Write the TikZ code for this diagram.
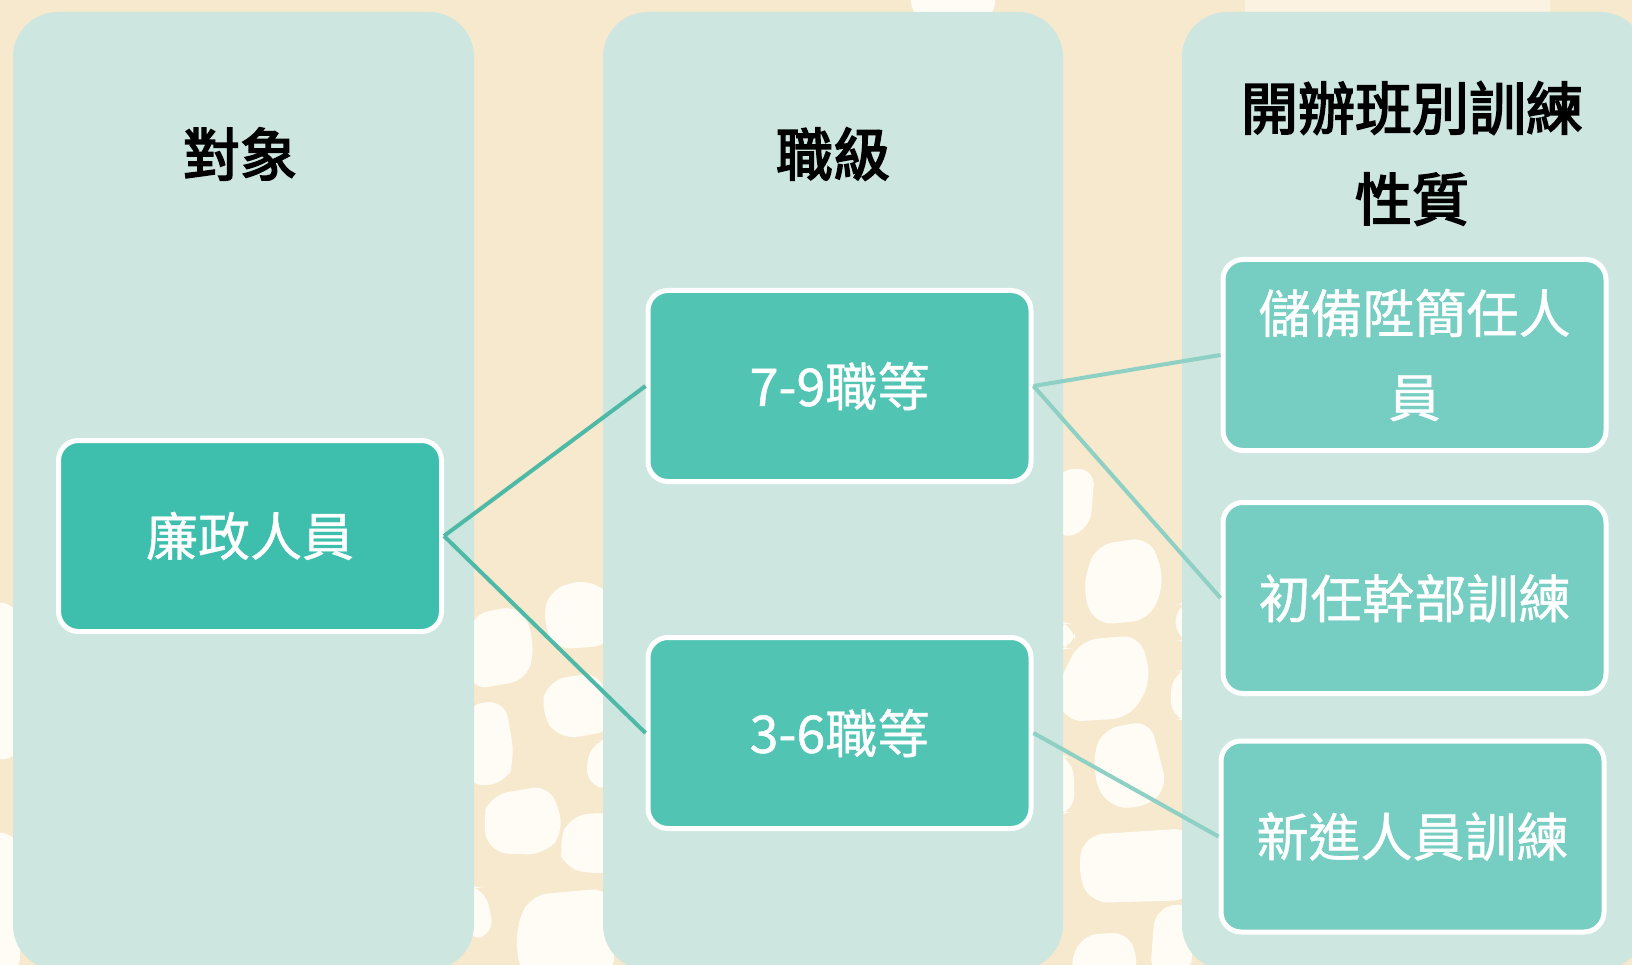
\documentclass[tikz,border=0pt]{standalone}
\usepackage{fontspec}
\newfontfamily\cjk[FakeBold=0.8]{Noto Sans CJK TC}
\newfontfamily\cjktitle[FakeBold=3]{Noto Sans CJK TC}
\definecolor{bgc}{HTML}{F7E9CE}
\definecolor{blobc}{HTML}{FFFCF6}
\definecolor{blobfaint}{HTML}{FBF2E2}
\definecolor{colc}{HTML}{CDE6DF}
\definecolor{boxa}{HTML}{3EBEAD}
\definecolor{boxb}{HTML}{52C4B4}
\definecolor{boxc}{HTML}{76CDC1}
\definecolor{linea}{HTML}{4DB9A6}
\definecolor{lineb}{HTML}{8ED0C3}
\tikzset{
  colbg/.style={fill=colc, rounded corners=45pt},
  blob/.style={fill=blobc, rounded corners=18pt},
  box/.style={draw=white, line width=5pt, rounded corners=20pt,
    minimum width=383pt, minimum height=191pt, inner sep=0pt,
    text=white, font=\cjk\fontsize{52}{84}\selectfont, align=center},
  coltitle/.style={font=\cjktitle\fontsize{57}{91}\selectfont,
    align=center, text=black, inner sep=0pt},
  linka/.style={draw=linea, line width=4pt},
  linkb/.style={draw=lineb, line width=4pt},
}
\begin{document}
\begin{tikzpicture}[x=1pt,y=-1pt]
\useasboundingbox (0,0) rectangle (1632,965);
\clip (0,0) rectangle (1632,965);
% background
\fill[bgc] (0,0) rectangle (1632,965);
% terrazzo blobs (gap 1)
\fill[blob] (470,615) -- (520,605) -- (535,640) -- (528,680) -- (470,690) -- cycle;
\fill[blob] (548,590) -- (590,578) -- (615,600) -- (612,645) -- (555,650) -- (543,625) -- cycle;
\fill[blob] (548,680) -- (600,672) -- (615,730) -- (560,740) -- (540,712) -- cycle;
\fill[blob] (465,705) -- (505,700) -- (515,760) -- (505,785) -- (465,785) -- cycle;
\fill[blob] (590,742) -- (615,738) -- (615,790) -- (585,785) -- cycle;
\fill[blob] (490,795) -- (550,785) -- (565,830) -- (545,855) -- (490,853) -- (482,820) -- cycle;
\fill[blob] (570,815) -- (615,812) -- (615,875) -- (565,870) -- (558,845) -- cycle;
\fill[blob] (465,885) -- (485,888) -- (495,935) -- (465,940) -- cycle;
\fill[blob] (530,895) -- (610,888) -- (615,975) -- (520,975) -- (515,930) -- cycle;
% terrazzo blobs (gap 2)
\fill[blob] (1055,470) -- (1095,468) -- (1090,530) -- (1055,540) -- cycle;
\fill[blob] (1095,545) -- (1150,537) -- (1165,580) -- (1150,620) -- (1095,625) -- (1082,590) -- cycle;
\fill[blob] (1055,620) -- (1075,625) -- (1075,648) -- (1055,650) -- cycle;
\fill[blob] (1080,640) -- (1140,635) -- (1152,680) -- (1130,718) -- (1065,722) -- (1055,690) -- cycle;
\fill[blob] (1175,605) -- (1192,600) -- (1192,645) -- (1176,640) -- cycle;
\fill[blob] (1172,672) -- (1192,668) -- (1192,722) -- (1170,718) -- cycle;
\fill[blob] (1100,730) -- (1150,720) -- (1168,790) -- (1140,810) -- (1105,805) -- (1092,770) -- cycle;
\fill[blob] (1055,753) -- (1073,758) -- (1075,812) -- (1055,815) -- cycle;
\fill[blob] (1085,835) -- (1192,828) -- (1192,900) -- (1090,903) -- (1077,870) -- cycle;
\fill[blob] (1155,908) -- (1192,902) -- (1192,975) -- (1150,975) -- cycle;
\fill[blob] (1080,935) -- (1130,932) -- (1140,975) -- (1068,975) -- cycle;
% left strip and top strip
\fill[blob] (-20,600) -- (20,605) -- (20,760) -- (-20,758) -- cycle;
\fill[blob] (-20,830) -- (20,835) -- (20,975) -- (-20,975) -- cycle;
\fill[blob] (910,-20) -- (995,-20) -- (995,20) -- (912,20) -- cycle;
\fill[blobfaint, rounded corners=10pt] (1245,-20) -- (1550,-20) -- (1550,20) -- (1245,20) -- cycle;
% columns
\fill[colbg] (13,12) rectangle (474,970);
\fill[colbg] (603,12) rectangle (1063,970);
\fill[colbg] (1182,12) rectangle (1645,970);
% column titles
\node[coltitle] (t1) at (240,154) {對象};
\node[coltitle] (t2) at (833,154) {職級};
\node[coltitle] (t3) at (1412,153.5) {開辦班別訓練\\性質};
% boxes
\node[box, fill=boxa] (lz) at (250,536) {廉政人員};
\node[box, fill=boxb] (g79) at (839.5,386) {7-9職等};
\node[box, fill=boxb] (g36) at (839.5,733) {3-6職等};
\node[box, fill=boxc] (c1) at (1414.5,355) {儲備陞簡任人\\員};
\node[box, fill=boxc] (c2) at (1414.5,598) {初任幹部訓練};
\node[box, fill=boxc] (c3) at (1412.5,836.5) {新進人員訓練};
% connectors
\draw[linka] (lz.east) -- (g79.west);
\draw[linka] (lz.east) -- (g36.west);
\draw[linkb] (g79.east) -- (c1.west);
\draw[linkb] (g79.east) -- (c2.west);
\draw[linkb] (g36.east) -- (c3.west);
\end{tikzpicture}
\end{document}
